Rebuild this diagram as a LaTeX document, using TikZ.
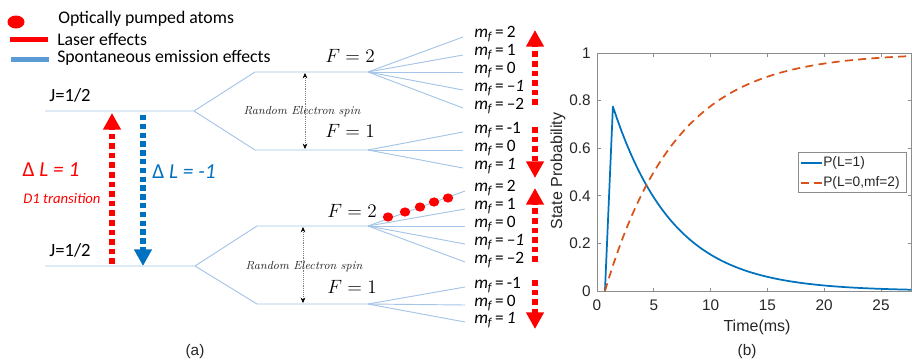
\documentclass[tikz,border=0pt]{standalone}
\usepackage{fontspec}
\newfontfamily\calib{Carlito}
\newfontfamily\arialf{Liberation Sans}
\usetikzlibrary{arrows.meta}
\definecolor{lvlc}{HTML}{A4C4E8}
\definecolor{spblue}{HTML}{0070C0}
\definecolor{legblue}{HTML}{5B9BD5}
\definecolor{mlblue}{HTML}{0072BD}
\definecolor{mlorange}{HTML}{D95319}
\definecolor{axgray}{HTML}{8C8C8C}
\begin{document}
\begin{tikzpicture}[x=0.75pt,y=-0.75pt,
  lvl/.style={draw=lvlc, line width=0.7pt},
  laser/.style={draw=red, line width=4.2pt, dash pattern=on 4.2pt off 3pt, -{Triangle[width=12.75pt,length=12.5pt]}},
  spont/.style={draw=spblue, line width=4pt, dash pattern=on 4pt off 2.6pt, -{Triangle[width=12.75pt,length=12.5pt]}},
  spinarrow/.style={draw=gray, line width=0.4pt, densely dotted, {Stealth[length=4pt,width=3.5pt,black]}-{Stealth[length=4pt,width=3.5pt,black]}},
  mf/.style={anchor=west, font=\calib\fontsize{13}{13}\selectfont, inner sep=0pt},
  legtxt/.style={anchor=west, font=\calib\fontsize{13.3}{14}\selectfont, inner sep=0pt},
  jtxt/.style={font=\calib\fontsize{14}{14}\selectfont, inner sep=0pt},
  ftxt/.style={font=\fontsize{14}{14}\selectfont, inner sep=0pt},
  spintxt/.style={font=\itshape\fontsize{8.8}{9}\selectfont, inner sep=0pt, text=black!85},
  atom/.style={fill=red},
  ptxt/.style={font=\arialf\fontsize{11.5}{12}\selectfont, inner sep=0pt, text=black!85},
  axtick/.style={draw=axgray, line width=0.5pt}
]
\useasboundingbox (0,0) rectangle (912,361);

% ---------- legend ----------
\fill[red] (16,22) ellipse [x radius=8.5, y radius=6.5];
\node[legtxt] (l1) at (58,19) {Optically pumped atoms};
\fill[red] (10,36.5) rectangle (48,41.5);
\node[legtxt] (l2) at (57,39) {Laser effects};
\fill[legblue] (11,56.5) rectangle (49,61.5);
\node[legtxt] (l3) at (57,58) {Spontaneous emission effects};

% ---------- upper J level ----------
\node[jtxt] (j1) at (70,95) {J=1/2};
\coordinate (a0) at (45,111);
\coordinate (a1) at (194,111);
\coordinate (a2) at (255,72);
\coordinate (a3) at (368,72);
\coordinate (a4) at (255,150);
\coordinate (a5) at (368,150);
\draw[lvl] (a0) -- (a1) -- (a2) -- (a3);
\draw[lvl] (a1) -- (a4) -- (a5);
\foreach \y in {37,55,72,90,108} \draw[lvl] (a3) -- (463,\y);
\foreach \y in {132,150,168} \draw[lvl] (a5) -- (463,\y);
\node[ftxt] (f2a) at (350,56) {$F=2$};
\node[ftxt] (f1a) at (350,131) {$F=1$};
\coordinate (sa1) at (305,73);
\coordinate (sa2) at (305,149);
\draw[spinarrow] (sa1) -- (sa2);
\node[spintxt] (rsa) at (302,112) {Random Electron spin};

\node[mf] (m1) at (474,34) {\itshape m\textsubscript{f}\upshape\,=\,2};
\node[mf] (m2) at (474,52) {\itshape m\textsubscript{f}\upshape\,=\,1};
\node[mf] (m3) at (474,70) {\itshape m\textsubscript{f}\upshape\,=\,0};
\node[mf] (m4) at (474,88) {\itshape m\textsubscript{f}\upshape\,=\,\itshape –1};
\node[mf] (m5) at (474,106) {\itshape m\textsubscript{f}\upshape\,=\,–2};
\node[mf] (m6) at (474,130) {\itshape m\textsubscript{f}\upshape\,=\,-1};
\node[mf] (m7) at (474,148) {\itshape m\textsubscript{f}\upshape\,=\,0};
\node[mf] (m8) at (474,166) {\itshape m\textsubscript{f}\upshape\,=\,\itshape 1};

% ---------- lower J level ----------
\node[jtxt] (j2) at (70,250) {J=1/2};
\coordinate (b0) at (45,266);
\coordinate (b1) at (195,266);
\coordinate (b2) at (257,226);
\coordinate (b3) at (368,226);
\coordinate (b4) at (257,304);
\coordinate (b5) at (368,304);
\draw[lvl] (b0) -- (b1) -- (b2) -- (b3);
\draw[lvl] (b1) -- (b4) -- (b5);
\foreach \y in {191,209,226,244,262} \draw[lvl] (b3) -- (465,\y);
\foreach \y in {287,305,322} \draw[lvl] (b5) -- (465,\y);
\node[ftxt] (f2b) at (352,211) {$F=2$};
\node[ftxt] (f1b) at (352,287) {$F=1$};
\coordinate (sb1) at (303,227);
\coordinate (sb2) at (303,303);
\draw[spinarrow] (sb1) -- (sb2);
\node[spintxt] (rsb) at (304,267) {Random Electron spin};

\node[mf] (n1) at (474,188) {\itshape m\textsubscript{f}\upshape\,=\,2};
\node[mf] (n2) at (474,206) {\itshape m\textsubscript{f}\upshape\,=\,1};
\node[mf] (n3) at (474,224) {\itshape m\textsubscript{f}\upshape\,=\,0};
\node[mf] (n4) at (474,242) {\itshape m\textsubscript{f}\upshape\,=\,\itshape –1};
\node[mf] (n5) at (474,260) {\itshape m\textsubscript{f}\upshape\,=\,–2};
\node[mf] (n6) at (474,285) {\itshape m\textsubscript{f}\upshape\,=\,-1};
\node[mf] (n7) at (474,303) {\itshape m\textsubscript{f}\upshape\,=\,0};
\node[mf] (n8) at (474,320) {\itshape m\textsubscript{f}\upshape\,=\,\itshape 1};

% pumped atoms
\foreach \px/\py in {388/217,405/212,420/207,434/202,448/198}
  \fill[atom] (\px,\py) ellipse [x radius=5.2, y radius=4.6];

% ---------- transitions ----------
\coordinate (r1s) at (112,264);
\coordinate (r1e) at (112,113);
\draw[laser] (r1s) -- (r1e);
\coordinate (b1s) at (143,115);
\coordinate (b1e) at (143,266);
\draw[spont] (b1s) -- (b1e);
\node[font=\calib\fontsize{16}{16}\selectfont, text=red, inner sep=0pt] (dl1) at (51,170) {Δ \itshape L = 1};
\node[font=\calib\itshape\fontsize{11}{11}\selectfont, text=red, inner sep=0pt] (d1t) at (62,198) {D1 transition};
\node[font=\calib\fontsize{16}{16}\selectfont, text=spblue, inner sep=0pt] (dl2) at (184,172) {Δ \itshape L = -1};

\coordinate (u1s) at (535,105);
\coordinate (u1e) at (535,30);
\draw[laser] (u1s) -- (u1e);
\coordinate (d1s) at (535,127);
\coordinate (d1e) at (535,178);
\draw[laser] (d1s) -- (d1e);
\coordinate (u2s) at (535,262);
\coordinate (u2e) at (535,188);
\draw[laser] (u2s) -- (u2e);
\coordinate (d2s) at (535,280);
\coordinate (d2e) at (535,329);
\draw[laser] (d2s) -- (d2e);

\node[ptxt] (capa) at (195,352) {(a)};

% ---------- plot (b) ----------
\draw[axtick] (597,53) rectangle (911,291);
\foreach \t in {0,5,...,25} {
  \draw[axtick] ({597+11.36*\t},291) -- ({597+11.36*\t},287.5);
  \draw[axtick] ({597+11.36*\t},53) -- ({597+11.36*\t},56.5);
  \node[ptxt, anchor=north] at ({597+11.36*\t},300) {\t};
}
\foreach \p/\lab in {0/0,0.2/0.2,0.4/0.4,0.6/0.6,0.8/0.8,1/1} {
  \draw[axtick] (597,{291-238*\p}) -- (600.5,{291-238*\p});
  \draw[axtick] (911,{291-238*\p}) -- (907.5,{291-238*\p});
  \node[ptxt, anchor=east] at (591,{291-238*\p}) {\lab};
}
\node[ptxt, rotate=90, font=\arialf\fontsize{12}{12}\selectfont] (ylab) at (558,171) {State Probability};
\node[ptxt, font=\arialf\fontsize{12}{12}\selectfont] (xlab) at (757,327) {Time(ms)};
\node[ptxt] (capb) at (747,352) {(b)};

\begin{scope}
\clip (597,50) rectangle (911,292);
\draw[mlblue, line width=1.3pt, line join=round]
  ({597+11.36*0.7},291) -- ({597+11.36*1.4},{291-238*0.775})
  -- plot[domain=1.4:27.8, samples=70] ({597+11.36*\x},{291-238*0.775*exp(-(\x-1.4)/5.3)});
\draw[mlorange, line width=1.3pt, dash pattern=on 6pt off 4pt]
  plot[domain=0.7:27.8, samples=70] ({597+11.36*\x},{291-238*(1-exp(-(\x-0.7)/6.2))});
\end{scope}

% plot legend
\draw[axgray, fill=white, line width=0.5pt] (798,152) rectangle (906,192);
\coordinate (lg1a) at (801,163);
\coordinate (lg1b) at (822,163);
\draw[mlblue, line width=1.3pt] (lg1a) -- (lg1b);
\node[ptxt, anchor=west, font=\arialf\fontsize{10.3}{11}\selectfont] (lgt1) at (823,163) {P(L=1)};
\coordinate (lg2a) at (801,183);
\coordinate (lg2b) at (822,183);
\draw[mlorange, line width=1.3pt, dash pattern=on 6pt off 4pt] (lg2a) -- (lg2b);
\node[ptxt, anchor=west, font=\arialf\fontsize{10.3}{11}\selectfont] (lgt2) at (823,183) {P(L=0,mf=2)};
\end{tikzpicture}
\end{document}
